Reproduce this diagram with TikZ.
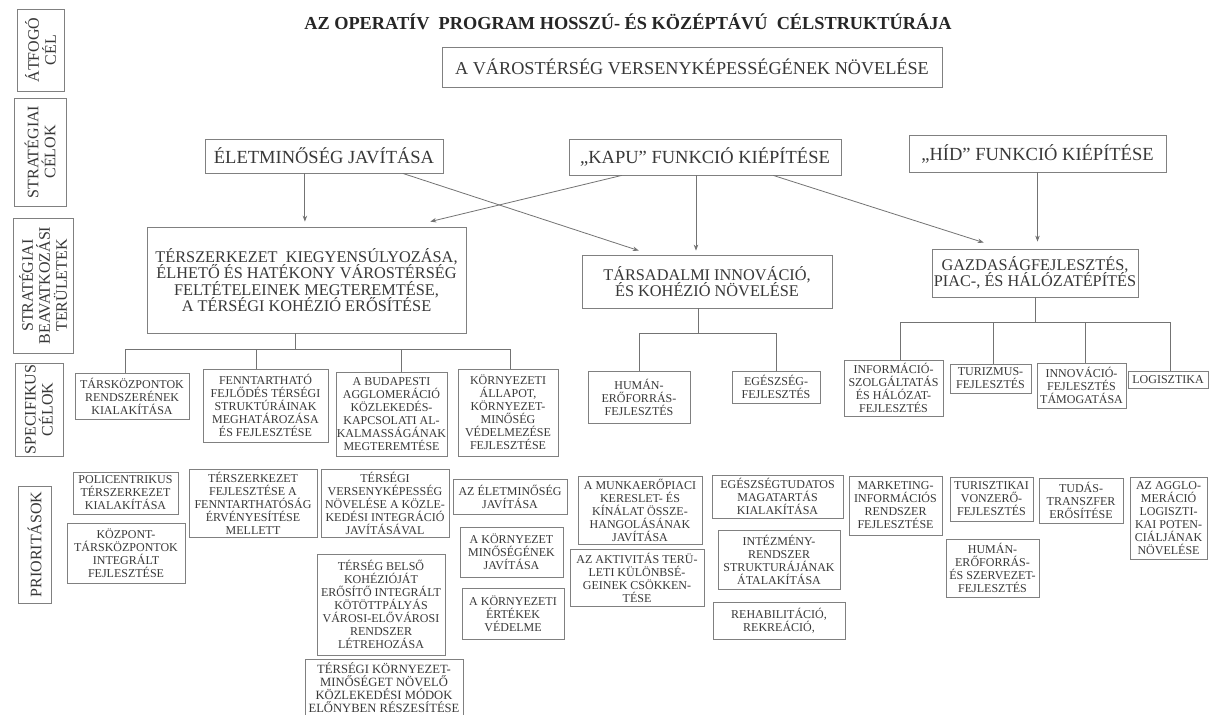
\documentclass[tikz,border=0pt]{standalone}
\usepackage{fontspec}
\setmainfont{Liberation Serif}
\usetikzlibrary{calc,arrows.meta}
\newcommand\fs[2]{\fontsize{#1}{#2}\selectfont}
% box by edges: [opts]{name}{x1}{x2}{y1}{y2}{text}
\newcommand\bnode[7][]{\node[box,minimum width={(#4)-(#3)},minimum height={(#6)-(#5)},#1] (#2) at ({((#3)+(#4))/2},{((#5)+(#6))/2}) {#7};}
% rotated label box by edges
\newcommand\lnode[7][]{\node[box,lbl,rotate=90,minimum width={(#6)-(#5)},minimum height={(#4)-(#3)},#1] (#2) at ({((#3)+(#4))/2},{((#5)+(#6))/2}) {#7};}
\begin{document}
\begin{tikzpicture}[x=1pt,y=-1pt,
  box/.style={draw=black!50,line width=0.8pt,inner sep=0pt,align=center,text=black!78,font=\fs{12}{13}},
  lbl/.style={font=\fs{16}{17}},
  big/.style={font=\fs{16.3}{16.5}},
  goal/.style={font=\fs{18.5}{20}},
  ln/.style={draw=black!55,line width=0.8pt},
  arr/.style={ln,-{Stealth[length=6pt,width=4.5pt]}},
]
\useasboundingbox (0,0) rectangle (1211,715);
\fill[white] (0,0) rectangle (1211,715);

% title
\node[font=\bfseries\fs{18.3}{20},text=black!85,inner sep=0pt] (title) at (628,22) {AZ OPERATÍV~ PROGRAM HOSSZÚ- ÉS KÖZÉPTÁVÚ~ CÉLSTRUKTÚRÁJA};

% row labels
\lnode{L1}{17}{64}{9}{91}{ÁTFOGÓ\\CÉL}
\lnode{L2}{14}{66}{98}{206}{STRATÉGIAI\\CÉLOK}
\lnode{L3}{13}{73}{218}{353}{STRATÉGIAI\\BEAVATKOZÁSI\\TERÜLETEK}
\lnode{L4}{15}{63}{363}{456}{SPECIFIKUS\\CÉLOK}
\lnode{L5}{18}{51}{486}{603}{PRIORITÁSOK}

% overall goal
\bnode[font=\fs{18.2}{20}]{m}{442}{942}{47}{87}{A VÁROSTÉRSÉG VERSENYKÉPESSÉGÉNEK NÖVELÉSE}

% strategic goals
\bnode[goal]{e1}{205}{443}{139}{173}{ÉLETMINŐSÉG JAVÍTÁSA}
\bnode[goal]{k}{569}{841}{139}{175}{„KAPU” FUNKCIÓ KIÉPÍTÉSE}
\bnode[goal]{h}{909}{1166}{135}{172}{„HÍD” FUNKCIÓ KIÉPÍTÉSE}

% intervention areas
\bnode[big]{t1}{147}{466}{227}{333}{TÉRSZERKEZET~ KIEGYENSÚLYOZÁSA,\\ÉLHETŐ ÉS HATÉKONY VÁROSTÉRSÉG\\FELTÉTELEINEK MEGTEREMTÉSE,\\A TÉRSÉGI KOHÉZIÓ ERŐSÍTÉSE}
\bnode[big]{t2}{582}{832}{255}{308}{TÁRSADALMI INNOVÁCIÓ,\\ÉS KOHÉZIÓ NÖVELÉSE}
\bnode[big]{t3}{932}{1138}{249}{297}{GAZDASÁGFEJLESZTÉS,\\PIAC-, ÉS HÁLÓZATÉPÍTÉS}

% specific goals
\bnode{s1}{75}{189}{373}{419}{TÁRSKÖZPONTOK\\RENDSZERÉNEK\\KIALAKÍTÁSA}
\bnode{s2}{203}{328}{369}{442}{FENNTARTHATÓ\\FEJLŐDÉS TÉRSÉGI\\STRUKTÚRÁINAK\\MEGHATÁROZÁSA\\ÉS FEJLESZTÉSE}
\bnode{s3}{336}{447}{372}{456}{A BUDAPESTI\\AGGLOMERÁCIÓ\\KÖZLEKEDÉS-\\KAPCSOLATI AL-\\KALMASSÁGÁNAK\\MEGTEREMTÉSE}
\bnode{s4}{458}{558}{369}{456}{KÖRNYEZETI\\ÁLLAPOT,\\KÖRNYEZET-\\MINŐSÉG\\VÉDELMEZÉSE\\FEJLESZTÉSE}
\bnode{s5}{588}{690}{371}{423}{HUMÁN-\\ERŐFORRÁS-\\FEJLESZTÉS}
\bnode{s6}{732}{820}{371}{403}{EGÉSZSÉG-\\FEJLESZTÉS}
\bnode{s7}{844}{943}{360}{416}{INFORMÁCIÓ-\\SZOLGÁLTATÁS\\ÉS HÁLÓZAT-\\FEJLESZTÉS}
\bnode{s8}{950}{1031}{364}{393}{TURIZMUS-\\FEJLESZTÉS}
\bnode{s9}{1037}{1126}{363}{408}{INNOVÁCIÓ-\\FEJLESZTÉS\\TÁMOGATÁSA}
\bnode{s10}{1128}{1208}{371}{388}{LOGISZTIKA}

% priorities
\bnode{p1}{73}{178}{472}{514}{POLICENTRIKUS\\TÉRSZERKEZET\\KIALAKÍTÁSA}
\bnode{p2}{67}{185}{523}{583}{KÖZPONT-\\TÁRSKÖZPONTOK\\INTEGRÁLT\\FEJLESZTÉSE}
\bnode{p3}{189}{317}{469}{537}{TÉRSZERKEZET\\FEJLESZTÉSE A\\FENNTARTHATÓSÁG\\ÉRVÉNYESÍTÉSE\\MELLETT}
\bnode{p4}{321}{449}{469}{537}{TÉRSÉGI\\VERSENYKÉPESSÉG\\NÖVELÉSE A KÖZLE-\\KEDÉSI INTEGRÁCIÓ\\JAVÍTÁSÁVAL}
\bnode{p5}{317}{445}{554}{655}{TÉRSÉG BELSŐ\\KOHÉZIÓJÁT\\ERŐSÍTŐ INTEGRÁLT\\KÖTÖTTPÁLYÁS\\VÁROSI-ELŐVÁROSI\\RENDSZER\\LÉTREHOZÁSA}
\bnode[font=\fs{12.6}{13.2}]{p6}{305}{463}{659}{716}{TÉRSÉGI KÖRNYEZET-\\MINŐSÉGET NÖVELŐ\\KÖZLEKEDÉSI MÓDOK\\ELŐNYBEN RÉSZESÍTÉSE}
\bnode{p7}{453}{567}{479}{514}{AZ ÉLETMINŐSÉG\\JAVÍTÁSA}
\bnode{p8}{460}{563}{527}{577}{A KÖRNYEZET\\MINŐSÉGÉNEK\\JAVÍTÁSA}
\bnode{p9}{462}{564}{588}{639}{A KÖRNYEZETI\\ÉRTÉKEK\\VÉDELME}
\bnode{p10}{578}{702}{476}{544}{A MUNKAERŐPIACI\\KERESLET- ÉS\\KÍNÁLAT ÖSSZE-\\HANGOLÁSÁNAK\\JAVÍTÁSA}
\bnode{p11}{570}{704}{549}{606}{AZ AKTIVITÁS TERÜ-\\LETI KÜLÖNBSÉ-\\GEINEK CSÖKKEN-\\TÉSE}
\bnode{p12}{712}{843}{475}{518}{EGÉSZSÉGTUDATOS\\MAGATARTÁS\\KIALAKÍTÁSA}
\bnode{p13}{718}{840}{530}{589}{INTÉZMÉNY-\\RENDSZER\\STRUKTURÁJÁNAK\\ÁTALAKÍTÁSA}
\bnode{p14}{713}{845}{602}{639}{REHABILITÁCIÓ,\\REKREÁCIÓ,}
\bnode{p15}{849}{942}{476}{535}{MARKETING-\\INFORMÁCIÓS\\RENDSZER\\FEJLESZTÉSE}
\bnode{p16}{950}{1033}{477}{521}{TURISZTIKAI\\VONZERŐ-\\FEJLESZTÉS}
\bnode{p17}{946}{1039}{539}{597}{HUMÁN-\\ERŐFORRÁS-\\ÉS SZERVEZET-\\FEJLESZTÉS}
\bnode{p18}{1039}{1123}{478}{523}{TUDÁS-\\TRANSZFER\\ERŐSÍTÉSE}
\bnode{p19}{1130}{1207}{477}{559}{AZ AGGLO-\\MERÁCIÓ\\LOGISZTI-\\KAI POTEN-\\CIÁLJÁNAK\\NÖVELÉSE}

% arrows from strategic goals
\coordinate (e1a) at ($(e1.south west)!0.42!(e1.south east)$);
\coordinate (e1b) at ($(e1.south west)!0.83!(e1.south east)$);
\coordinate (ka) at ($(k.south west)!0.195!(k.south east)$);
\coordinate (kb) at ($(k.south west)!0.467!(k.south east)$);
\coordinate (kc) at ($(k.south west)!0.75!(k.south east)$);
\coordinate (t1a) at ($(t1.north west)!0.887!(t1.north east)+(0,-5)$);
\coordinate (t2a) at ($(t2.north west)!0.228!(t2.north east)+(0,-4)$);
\coordinate (t3a) at ($(t3.north west)!0.252!(t3.north east)+(0,-6)$);
\draw[arr] (e1a) -- ($(e1a |- t1.north)+(0,-5)$);
\draw[arr] (e1b) -- (t2a);
\draw[arr] (ka) -- (t1a);
\draw[arr] (kb) -- ($(kb |- t2.north)+(0,-4)$);
\draw[arr] (kc) -- (t3a);
\draw[arr] (h.south) -- ($(h.south |- t3.north)+(0,-7)$);

% tree: t1
\coordinate (t1s) at ($(t1.south west)!0.464!(t1.south east)$);
\coordinate (t1h) at ($(t1s)+(0,16)$);
\draw[ln] (t1s) -- (t1h);
\draw[ln] ($(s1.north west)!0.44!(s1.north east)$) |- (t1h);
\draw[ln] ($(s2.north west)!0.43!(s2.north east)$) |- (t1h);
\draw[ln] ($(s3.north west)!0.585!(s3.north east)$) |- (t1h);
\draw[ln] ($(s4.north west)!0.52!(s4.north east)$) |- (t1h);
% tree: t2
\coordinate (t2s) at ($(t2.south west)!0.464!(t2.south east)$);
\coordinate (t2h) at ($(t2s)+(0,25)$);
\draw[ln] (t2s) -- (t2h);
\draw[ln] (s5.north) |- (t2h);
\draw[ln] (s6.north) |- (t2h);
% tree: t3
\coordinate (t3h) at ($(t3.south)+(0,25)$);
\draw[ln] (t3.south) -- (t3h);
\draw[ln] ($(s7.north west)!0.566!(s7.north east)$) |- (t3h);
\draw[ln] ($(s8.north west)!0.54!(s8.north east)$) |- (t3h);
\draw[ln] ($(s9.north west)!0.54!(s9.north east)$) |- (t3h);
\draw[ln] ($(s10.north west)!0.525!(s10.north east)$) |- (t3h);
\end{tikzpicture}
\end{document}
